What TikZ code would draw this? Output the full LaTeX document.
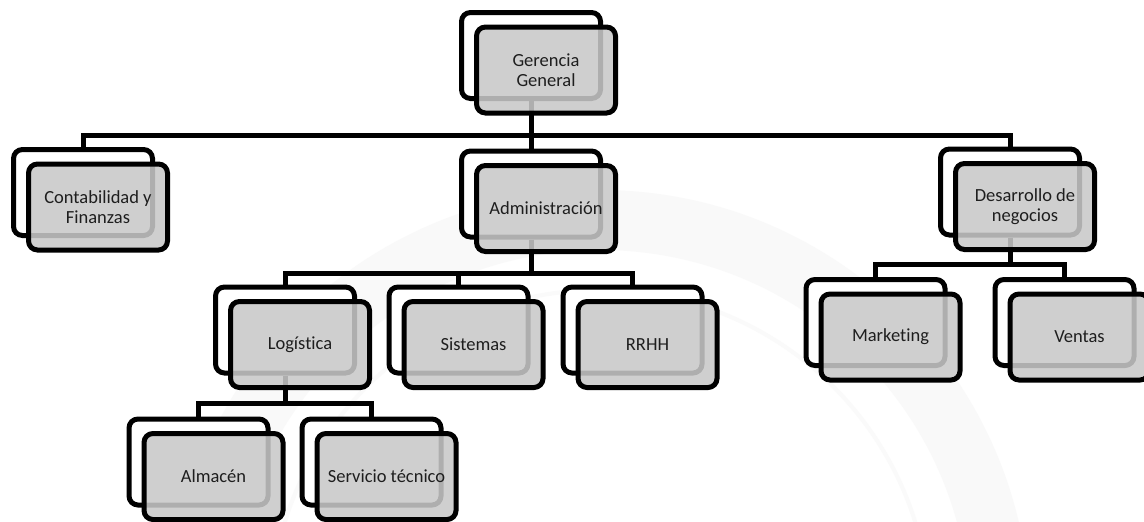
\documentclass[tikz,border=0pt]{standalone}
\usepackage{fontspec}
\setmainfont{Carlito}[Ligatures=NoCommon]
\usetikzlibrary{calc}
\definecolor{boxgray}{RGB}{201,201,201}
\definecolor{txt}{RGB}{30,30,30}
\begin{document}
\begin{tikzpicture}[x=1pt,y=-1pt,
  back/.style={draw=black, line width=5pt, rounded corners=9pt, fill=white,
    minimum width=139pt, minimum height=86pt, inner sep=0pt},
  front/.style={draw=black, line width=5pt, rounded corners=9pt, fill=boxgray,
    fill opacity=0.87, text opacity=1, minimum width=139pt, minimum height=86pt,
    inner sep=0pt, align=center, text=txt, font=\fontsize{18.5}{20}\selectfont},
  conn/.style={draw=black, line width=5pt}]
\useasboundingbox (0,0) rectangle (1144,522);
\fill[white] (0,0) rectangle (1144,522);
% faint watermark seal
\draw[gray!5, line width=60pt] (600,620) circle (400);
\draw[gray!4, line width=4pt] (600,620) circle (330);

% back boxes
\node[back] (gB) at (531,55.5) {};
\node[back] (cB) at (83,192.5) {};
\node[back] (aB) at (531,194) {};
\node[back] (dB) at (1010,192) {};
\node[back] (lB) at (285,330) {};
\node[back] (sB) at (458.5,330) {};
\node[back] (rB) at (632.5,330) {};
\node[back] (mB) at (875.5,322.5) {};
\node[back] (vB) at (1064.5,322.5) {};
\node[back] (alB) at (198.5,462) {};
\node[back] (stB) at (371.5,462) {};

% connectors
\coordinate (bus1) at (531,135);
\coordinate (bus2) at (531,273);
\coordinate (bus3) at (285,403);
\coordinate (bus4) at (1010,264);
\draw[conn] (gB.south) -- (bus1) -| (cB.north);
\draw[conn] (bus1) -| (dB.north);
\draw[conn] (bus1) -- (aB.north);
\draw[conn] (aB.south) -- (bus2) -| (lB.north);
\draw[conn] (bus2) -| (rB.north);
\draw[conn] (sB.north |- bus2) -- (sB.north);
\draw[conn] (lB.south) -- (bus3) -| (alB.north);
\draw[conn] (bus3) -| (stB.north);
\draw[conn] (dB.south) -- (bus4) -| (mB.north);
\draw[conn] (bus4) -| (vB.north);

% front boxes
\node[front] (g) at ($(gB)+(15,14.5)$) {Gerencia\\General};
\node[front] (c) at ($(cB)+(15,14.5)$) {Contabilidad y\\Finanzas};
\node[front] (a) at ($(aB)+(15,14.5)$) {Administración};
\node[front] (d) at ($(dB)+(15,14.5)$) {Desarrollo de\\negocios};
\node[front] (l) at ($(lB)+(15,14.5)$) {Logística};
\node[front] (s) at ($(sB)+(15,14.5)$) {Sistemas};
\node[front] (r) at ($(rB)+(15,14.5)$) {RRHH};
\node[front] (m) at ($(mB)+(15,14.5)$) {Marketing};
\node[front] (v) at ($(vB)+(15,14.5)$) {Ventas};
\node[front] (al) at ($(alB)+(15,14.5)$) {Almacén};
\node[front] (st) at ($(stB)+(15,14.5)$) {Servicio técnico};
\end{tikzpicture}
\end{document}
